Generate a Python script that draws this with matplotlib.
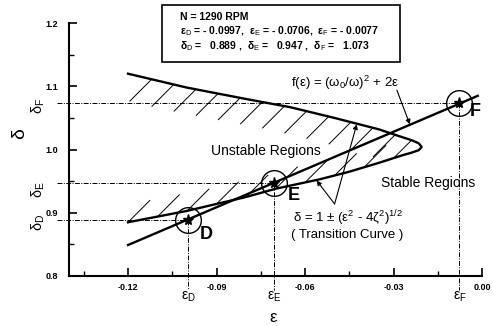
import numpy as np
import matplotlib
matplotlib.use("Agg")
import matplotlib.pyplot as plt
from matplotlib.patches import Polygon, Rectangle
from matplotlib.collections import LineCollection
import matplotlib.transforms as mtransforms

plt.rcParams['font.family'] = ['Liberation Sans', 'DejaVu Sans']
plt.rcParams['mathtext.fontset'] = 'custom'
plt.rcParams['mathtext.rm'] = 'Liberation Sans'
plt.rcParams['mathtext.it'] = 'Liberation Sans'
plt.rcParams['mathtext.bf'] = 'Liberation Sans:bold'

# ---------------- data ----------------
eps_upper = [-0.120, -0.100, -0.080, -0.065, -0.050, -0.035, -0.028, -0.024, -0.0215, -0.0205]
delta_upper = [1.120, 1.098, 1.080, 1.067, 1.050, 1.032, 1.021, 1.015, 1.010, 1.004]
eps_lower = [-0.0205, -0.0215, -0.024, -0.027, -0.035, -0.045, -0.055, -0.062, -0.070,
             -0.080, -0.090, -0.100, -0.110, -0.120]
delta_lower = [1.004, 0.999, 0.995, 0.991, 0.979, 0.965, 0.953, 0.946, 0.938,
               0.925, 0.914, 0.903, 0.894, 0.885]

line_eps = [-0.120, -0.0015]
line_delta = [0.849, 1.085]

pt_names = ['D', 'E', 'F']
pt_eps = [-0.0997, -0.0706, -0.0077]
pt_delta = [0.889, 0.947, 1.073]

xticks = [-0.12, -0.09, -0.06, -0.03, 0.00]
xticklabels = ['-0.12', '-0.09', '-0.06', '-0.03', '0.00']
yticks = [0.8, 0.9, 1.0, 1.1, 1.2]
yticklabels = ['0.8', '0.9', '1.0', '1.1', '1.2']

info_lines = ["N = 1290 RPM",
              "ε$_D$ = - 0.0997,  ε$_E$ = - 0.0706,  ε$_F$ = - 0.0077",
              "δ$_D$ =   0.889 ,  δ$_E$ =   0.947 ,  δ$_F$ =   1.073"]

# ---------------- figure ----------------
fig = plt.figure(figsize=(4.93, 3.26), dpi=100)
ax = fig.add_axes([0.140, 0.1534, 0.838, 0.7756])
ax.set_xlim(-0.14, 0.0)
ax.set_ylim(0.8, 1.2)

for s in ['top', 'right']:
    ax.spines[s].set_visible(False)
for s in ['left', 'bottom']:
    ax.spines[s].set_linewidth(1.5)

ax.set_xticks(xticks)
ax.set_xticklabels(xticklabels, fontsize=6.5, fontweight='bold')
ax.set_yticks(yticks)
ax.set_yticklabels(yticklabels, fontsize=6.5, fontweight='bold')
ax.set_xticks(np.arange(-0.135, 0.0, 0.03), minor=True)
ax.set_yticks(np.arange(0.85, 1.2, 0.1), minor=True)
ax.tick_params(which='major', direction='in', length=6, width=1.2, pad=5)
ax.tick_params(which='minor', direction='in', length=3.5, width=1.0)
ax.tick_params(axis='y', which='major', pad=8)

# transition curve
curve_e = eps_upper + eps_lower
curve_d = delta_upper + delta_lower
ax.plot(curve_e, curve_d, color='black', lw=1.7, solid_joinstyle='round')

# hatching inside unstable region
region = Polygon(np.column_stack([curve_e, curve_d]), closed=True,
                 transform=ax.transData, fill=False, edgecolor='none')
ax.add_patch(region)
segs = []
for e in np.arange(-0.112, -0.027, 0.0075):
    d = np.interp(e, eps_upper, delta_upper)
    segs.append([(e, d), (e - 0.0075, d - 0.035)])
for e in np.arange(-0.120, -0.021, 0.0100):
    d = np.interp(e, eps_lower[::-1], delta_lower[::-1])
    segs.append([(e, d), (e + 0.0075, d + 0.035)])
lc = LineCollection(segs, colors='black', linewidths=0.7)
ax.add_collection(lc)
lc.set_clip_path(region)

# straight line f(eps)
ax.plot(line_eps, line_delta, color='black', lw=1.7)

# reference dash-dot lines
ls_dd = (0, (5, 1.5, 1, 1.5))
for e, d in zip(pt_eps, pt_delta):
    ax.plot([-0.1441, e], [d, d], ls=ls_dd, lw=0.7, color='black', clip_on=False)
    ax.plot([e, e], [d, 0.778], ls=ls_dd, lw=0.7, color='black', clip_on=False)

# points with circles and stars
ax.plot(pt_eps, pt_delta, 'o', ms=18.5, mfc='none', mec='black', mew=1.0, zorder=5)
ax.plot(pt_eps, pt_delta, '*', ms=8, color='black', zorder=6)

offsets = [(18, -15), (20, -12), (16, -8)]
for name, e, d, off in zip(pt_names, pt_eps, pt_delta, offsets):
    ax.annotate(name, (e, d), xytext=off, textcoords='offset pixels',
                fontsize=13, fontweight='bold', ha='center', va='center')

# side labels delta_D, delta_E, delta_F
btx = mtransforms.blended_transform_factory(ax.transAxes, ax.transData)
dl_shift = [-0.004, -0.010, -0.004]
for name, d, sh in zip(pt_names, pt_delta, dl_shift):
    ax.text(-0.075, d + sh, "δ$_%s$" % name, transform=btx, rotation=90,
            fontsize=10.5, ha='center', va='center')
# bottom labels eps_D...
bty = mtransforms.blended_transform_factory(ax.transData, ax.transAxes)
for name, e in zip(pt_names, pt_eps):
    ax.text(e, -0.083, "ε$_%s$" % name, transform=bty, fontsize=10,
            ha='center', va='center')

ax.text(0.495, -0.166, "ε", transform=ax.transAxes, fontsize=12,
        ha='center', va='center')
ax.text(-0.119, 0.565, "δ", transform=ax.transAxes, fontsize=14,
        rotation=90, ha='center', va='center')

# region labels
ax.text(-0.0734, 0.998, "Unstable Regions", fontsize=10, ha='center', va='center')
ax.text(-0.0184, 0.947, "Stable Regions", fontsize=10, ha='center', va='center')

# formula annotations
ax.text(-0.0466, 1.105, "f(ε) = (ω$_0$/ω)$^2$ + 2ε", fontsize=9.5,
        ha='center', va='center')
ax.annotate("", xy=(-0.0245, 1.040), xytext=(-0.0289, 1.094),
            arrowprops=dict(arrowstyle='-|>', lw=0.8, color='black',
                            mutation_scale=7, shrinkA=0, shrinkB=0))
ax.text(-0.0456, 0.892, "δ = 1 ± (ε$^2$ - 4ζ$^2$)$^{1/2}$", fontsize=9.5,
        ha='center', va='center')
ax.text(-0.0456, 0.865, "( Transition Curve )", fontsize=9.5,
        ha='center', va='center')
for tip in [(-0.0561, 0.951), (-0.0425, 1.040)]:
    ax.annotate("", xy=tip, xytext=(-0.0500, 0.914),
                arrowprops=dict(arrowstyle='-|>', lw=0.8, color='black',
                                mutation_scale=7, shrinkA=0, shrinkB=0))

# info box
fig.patches.append(Rectangle((0.3286, 0.8098), 0.4828, 0.1749,
                             transform=fig.transFigure, fill=False,
                             edgecolor='black', lw=1.2))
for yy, txt in zip([0.948, 0.905, 0.859], info_lines):
    fig.text(0.365, yy, txt, fontsize=7.5, fontweight='bold', ha='left', va='center')

fig.savefig("out.png", dpi=100)
